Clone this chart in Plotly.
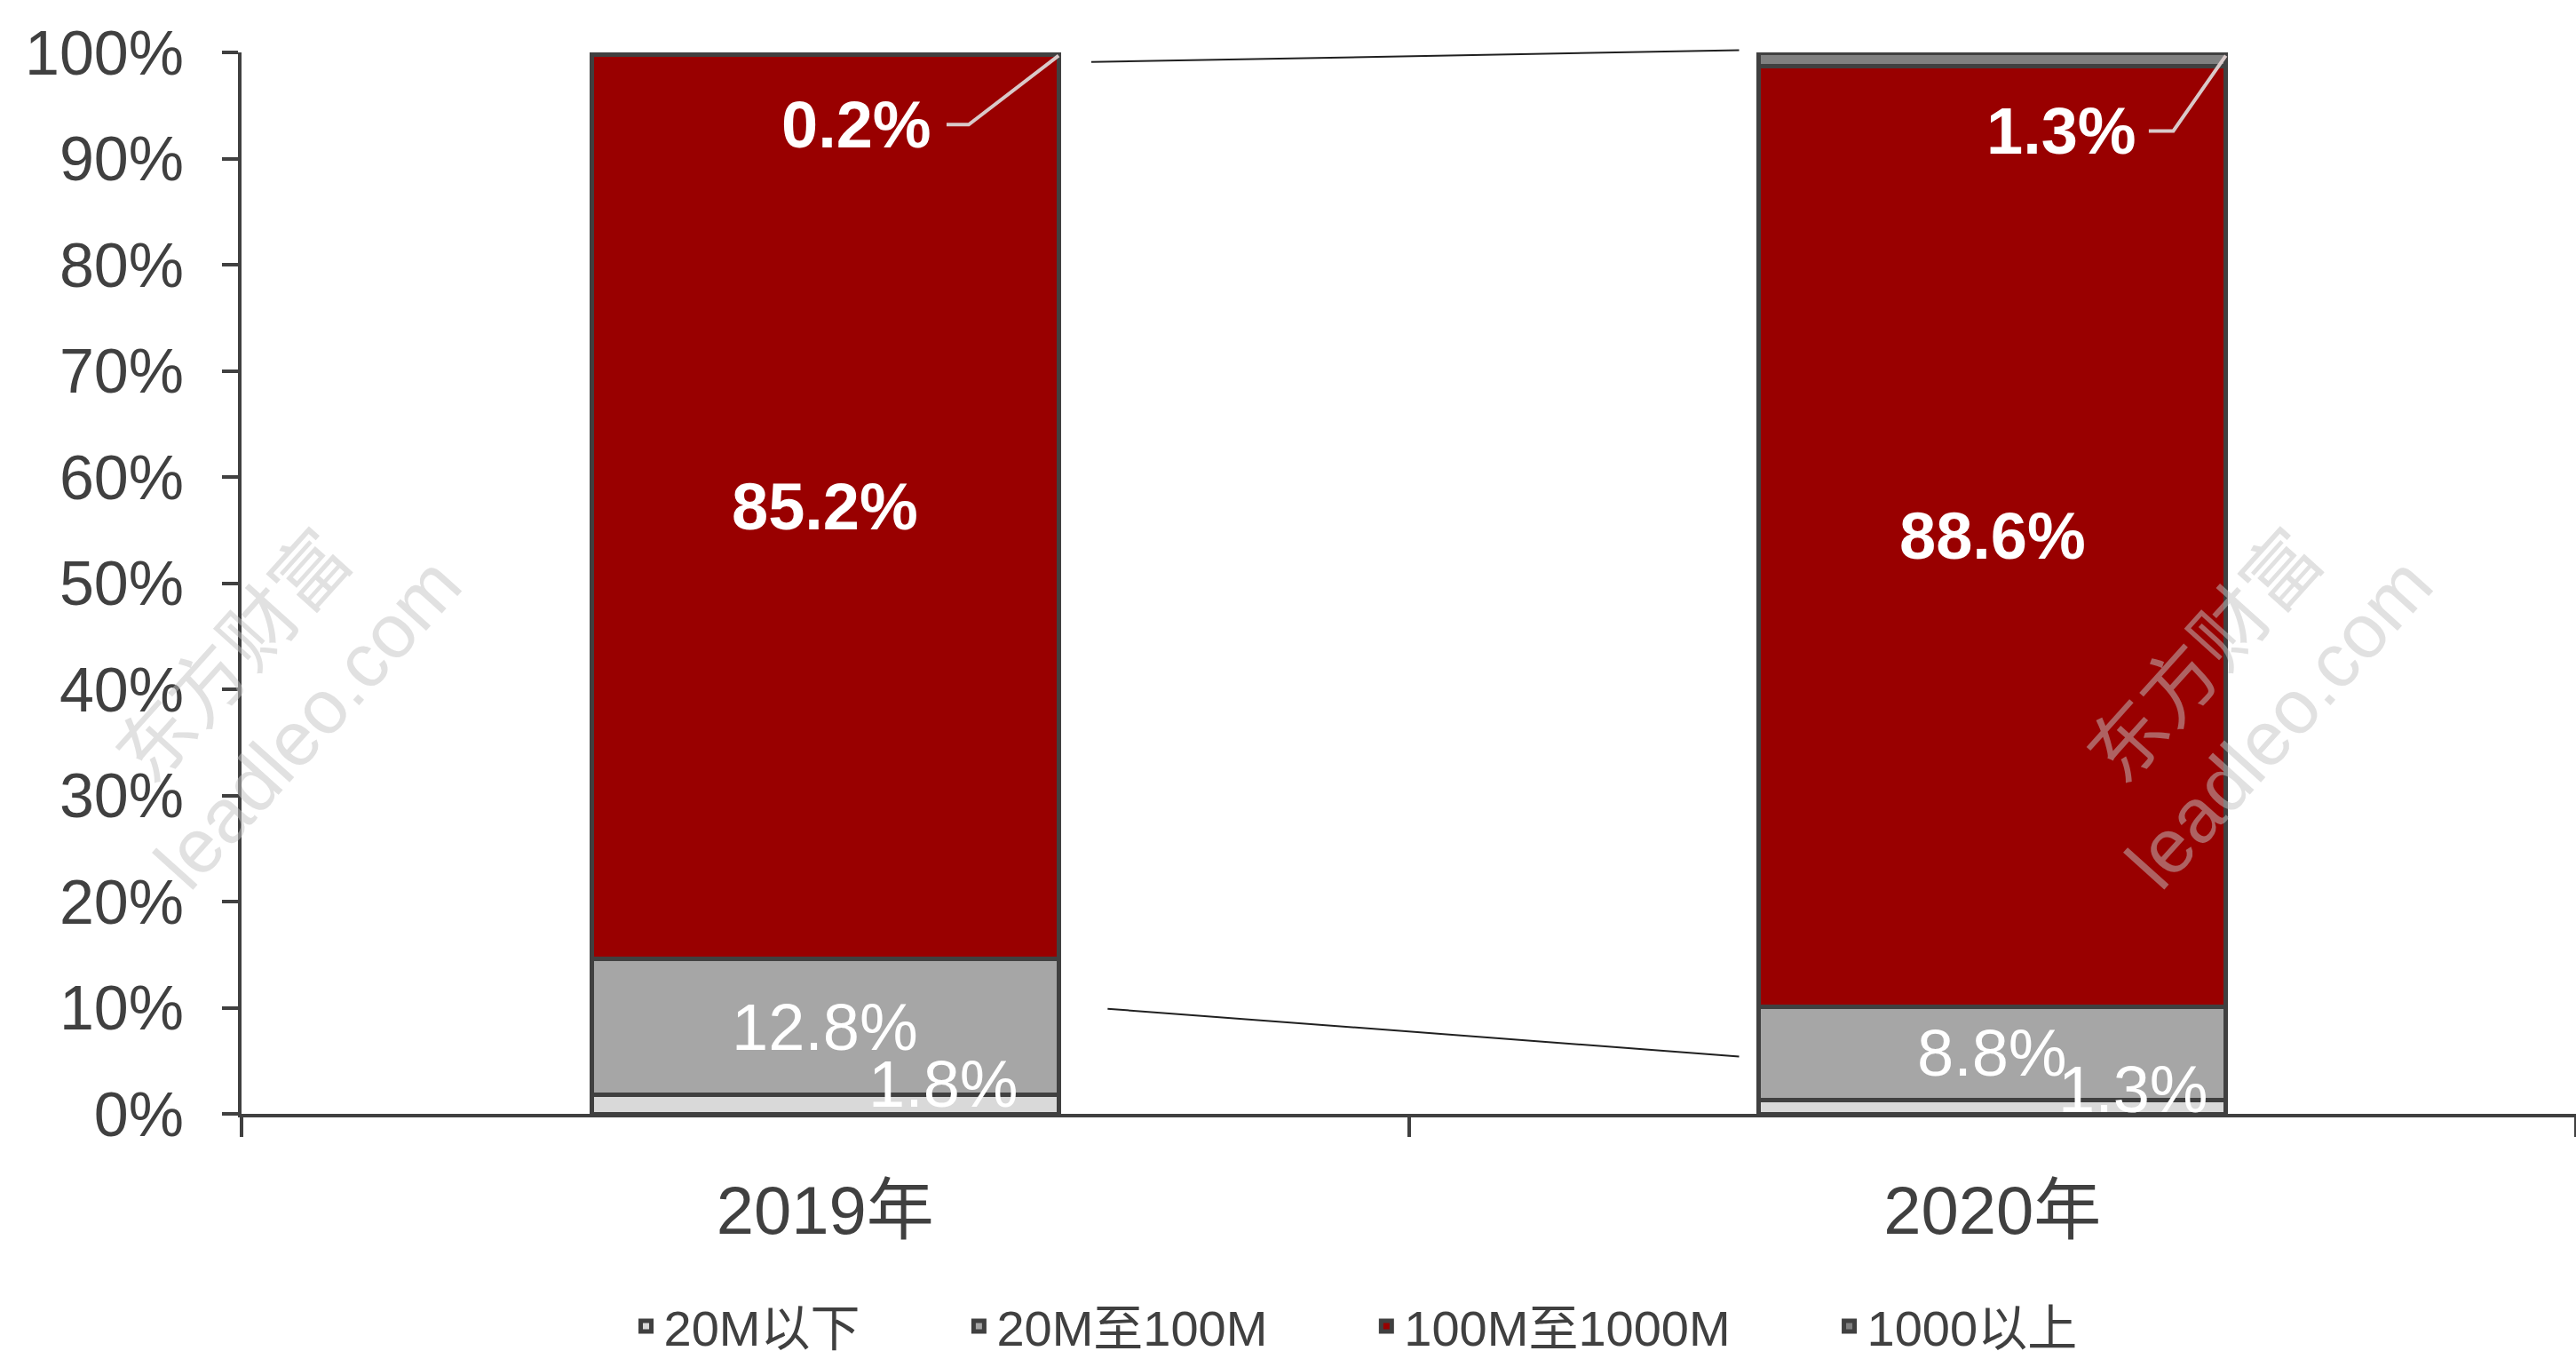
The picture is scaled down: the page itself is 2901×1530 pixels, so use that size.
import plotly.graph_objects as go

categories = ["2019年", "2020年"]
series_names = ["20M以下", "20M至100M", "100M至1000M", "1000以上"]
below_20m = [1.8, 1.3]
m20_to_100m = [12.8, 8.8]
m100_to_1000m = [85.2, 88.6]
above_1000 = [0.2, 1.3]
y_ticks = [0, 10, 20, 30, 40, 50, 60, 70, 80, 90, 100]

series_values = [below_20m, m20_to_100m, m100_to_1000m, above_1000]
colors = ["#D9D9D9", "#A6A6A6", "#990000", "#808080"]
AX = "#404040"
FONT = "Liberation Sans, Noto Sans CJK SC, sans-serif"
BAR_W = 0.4
PAD = "\u00a0" * 7

fig = go.Figure()
for k, (name, vals, col) in enumerate(zip(series_names, series_values, colors)):
    fig.add_trace(go.Bar(
        x=categories, y=vals, name=name + (PAD if k < len(series_names) - 1 else ""), width=BAR_W,
        marker=dict(color=col, line=dict(color=AX, width=5)),
        cliponaxis=False,
    ))

annotations = []
shapes = []
for i in range(len(categories)):
    b0 = below_20m[i]
    b1 = b0 + m20_to_100m[i]
    b2 = b1 + m100_to_1000m[i]
    annotations.append(dict(x=i, y=b2 - m100_to_1000m[i] / 2, text=f"{m100_to_1000m[i]}%",
                            showarrow=False, font=dict(family=FONT, size=74, color="white", weight="bold")))
    annotations.append(dict(x=i, y=b1 - m20_to_100m[i] / 2, text=f"{m20_to_100m[i]}%",
                            showarrow=False, font=dict(family=FONT, size=74, color="white")))
    dx_bot = [0.101, 0.121][i]
    annotations.append(dict(x=i + dx_bot, y=b0 + 1.0, text=f"{below_20m[i]}%",
                            showarrow=False, font=dict(family=FONT, size=74, color="white")))
    dx_top = [0.027, 0.059][i]
    y_lab = [93.2, 92.6][i]
    hx0 = [0.104, 0.134][i]
    hx1 = [0.123, 0.155][i]
    annotations.append(dict(x=i + dx_top, y=y_lab, text=f"{above_1000[i]}%",
                            showarrow=False, font=dict(family=FONT, size=74, color="white", weight="bold")))
    shapes.append(dict(type="path",
                       path=f"M {i + hx0} {y_lab} L {i + hx1} {y_lab} L {i + BAR_W / 2} {b2 + above_1000[i] - 0.3}",
                       xref="x", yref="y", line=dict(color="#D9C9C9", width=4)))

# connector lines between bars (y in paper units so they are not clipped at the top)
shapes.append(dict(type="line", x0=0.228, y0=0.991, x1=0.783, y1=1.002, xref="x", yref="paper",
                   line=dict(color="#202020", width=2)))
shapes.append(dict(type="line", x0=0.242, y0=0.099, x1=0.783, y1=0.054, xref="x", yref="paper",
                   line=dict(color="#202020", width=2)))

# watermarks
for wx in [0.0126, 0.857]:
    annotations.append(dict(x=wx, y=0.40, xref="paper", yref="paper", text="东方财富<br>leadleo.com",
                            xanchor="center", yanchor="middle",
                            showarrow=False, textangle=-48,
                            font=dict(family=FONT, size=86, color="rgba(195,195,195,0.5)")))

fig.update_layout(
    width=2901, height=1530,
    margin=dict(l=272, r=0, t=59, b=276, autoexpand=False),
    paper_bgcolor="white", plot_bgcolor="white",
    barmode="stack", bargap=0.6,
    showlegend=True,
    legend=dict(orientation="h", x=0.477, y=-0.200, xanchor="center", yanchor="middle",
                traceorder="normal", font=dict(family=FONT, size=56, color=AX),
                itemwidth=30, tracegroupgap=0),
    annotations=annotations, shapes=shapes,
    font=dict(family=FONT, color=AX),
)
fig.update_xaxes(type="category", range=[-0.5, 1.5], showline=True, linecolor=AX, linewidth=4,
                 ticks="outside", tickson="boundaries", ticklen=22, tickwidth=4, tickcolor=AX,
                 tickfont=dict(family=FONT, size=76, color=AX), showgrid=False, zeroline=False,
                 automargin=False, ticklabelstandoff=40)
fig.update_yaxes(range=[0, 100], tickvals=y_ticks, ticktext=[f"{v}%" for v in y_ticks],
                 showline=True, linecolor=AX, linewidth=4, ticks="outside", ticklen=18, tickwidth=4,
                 tickcolor=AX, tickfont=dict(family=FONT, size=70, color=AX), showgrid=False,
                 zeroline=False, automargin=False, ticklabelstandoff=29)

fig.write_html("out.html")
